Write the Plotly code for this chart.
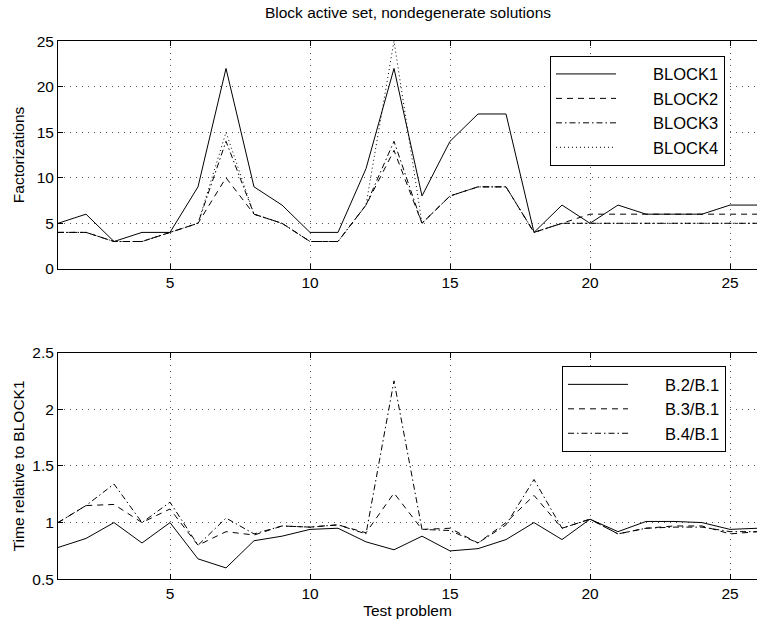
import plotly.graph_objects as go

problems = list(range(1, 27))

block1 = [5, 6, 3, 4, 4, 9, 22, 9, 7, 4, 4, 11, 22, 8, 14, 17, 17, 4, 7, 5, 7, 6, 6, 6, 7, 7]
block2 = [4, 4, 3, 3, 4, 5, 10, 6, 5, 3, 3, 7, 13, 5, 8, 9, 9, 4, 5, 6, 6, 6, 6, 6, 6, 6]
block3 = [4, 4, 3, 3, 4, 5, 14, 6, 5, 3, 3, 7, 14, 5, 8, 9, 9, 4, 5, 5, 5, 5, 5, 5, 5, 5]
block4 = [4, 4, 3, 3, 4, 5, 15, 6, 5, 3, 3, 7, 25, 5, 8, 9, 9, 4, 5, 5, 5, 5, 5, 5, 5, 5]

r21 = [0.78, 0.86, 1.0, 0.82, 1.0, 0.68, 0.60, 0.84, 0.88, 0.94, 0.95, 0.83, 0.76,
       0.88, 0.75, 0.77, 0.85, 1.0, 0.85, 1.03, 0.92, 1.01, 1.01, 1.0, 0.94, 0.95]
r31 = [1.0, 1.15, 1.16, 1.0, 1.12, 0.80, 0.92, 0.89, 0.97, 0.96, 0.98, 0.91, 1.26,
       0.94, 0.95, 0.82, 1.0, 1.24, 0.95, 1.03, 0.90, 0.95, 0.97, 0.97, 0.90, 0.92]
r41 = [1.0, 1.15, 1.34, 1.0, 1.18, 0.80, 1.04, 0.90, 0.97, 0.96, 0.98, 0.90, 2.25,
       0.94, 0.93, 0.82, 0.98, 1.38, 0.95, 1.03, 0.90, 0.95, 0.96, 0.96, 0.92, 0.92]

top_names = ["BLOCK1", "BLOCK2", "BLOCK3", "BLOCK4"]
bot_names = ["B.2/B.1", "B.3/B.1", "B.4/B.1"]

title_text = "Block active set, nondegenerate solutions"
x_title = "Test problem"
y1_title = "Factorizations"
y2_title = "Time relative to BLOCK1"

W, H = 757, 633
FONT = "Liberation Sans, Arial, Helvetica, sans-serif"
PAD = "\u00a0" * 7

dashes = ["solid", "6px,5px", "6px,3px,1.5px,3px", "1px,3px"]

fig = go.Figure()
for name, ys, d in zip(top_names, [block1, block2, block3, block4], dashes):
    fig.add_trace(go.Scatter(x=problems, y=ys, name=PAD + name, mode="lines",
                             line=dict(color="black", width=1, dash=d),
                             xaxis="x", yaxis="y", legend="legend"))
for name, ys, d in zip(bot_names, [r21, r31, r41], dashes[:3]):
    fig.add_trace(go.Scatter(x=problems, y=ys, name=PAD + name, mode="lines",
                             line=dict(color="black", width=1, dash=d),
                             xaxis="x2", yaxis="y2", legend="legend2"))

left = 58 / W
xr = [1, 1 + (W - 58) / 28.0]
top_dom = [1 - 267 / H, 1 - 33 / H]
bot_dom = [1 - 586 / H, 1 - 353 / H]

FS = 15.5
axis_common = dict(
    showline=True, linecolor="black", linewidth=1,
    ticks="inside", ticklen=5, tickcolor="black",
    showgrid=True, gridcolor="#555", griddash="1px,5px", gridwidth=1,
    zeroline=False, tickfont=dict(size=FS, color="black", family=FONT),
)
tfont = dict(size=FS, family=FONT, color="black")

fig.update_layout(
    width=W, height=H,
    margin=dict(l=0, r=0, t=0, b=0),
    paper_bgcolor="white", plot_bgcolor="white",
    font=dict(family=FONT, color="black"),
    showlegend=True,
    title=dict(text=title_text, x=408 / W, xanchor="center",
               y=1 - 13 / H, yanchor="middle",
               font=dict(size=15.5, family=FONT, color="black")),
    xaxis=dict(domain=[left, 1], range=xr, anchor="y", mirror="ticks",
               tickvals=[5, 10, 15, 20, 25], **axis_common),
    yaxis=dict(domain=top_dom, range=[0, 25], anchor="x",
               tickvals=[0, 5, 10, 15, 20, 25],
               title=dict(text=y1_title, font=tfont, standoff=8),
               **axis_common),
    xaxis2=dict(domain=[left, 1], range=xr, anchor="y2", mirror="ticks",
                tickvals=[5, 10, 15, 20, 25],
                title=dict(text=x_title, font=tfont, standoff=2),
                **axis_common),
    yaxis2=dict(domain=bot_dom, range=[0.5, 2.5], anchor="x2",
                tickvals=[0.5, 1, 1.5, 2, 2.5], ticktext=["0.5", "1", "1.5", "2", "2.5"],
                title=dict(text=y2_title, font=tfont, standoff=3),
                **axis_common),
    legend=dict(x=550 / W, y=1 - 48 / H, xanchor="left", yanchor="top",
                bordercolor="black", borderwidth=1, bgcolor="white",
                font=dict(size=16.5, family=FONT, color="black"),
                itemwidth=60, tracegroupgap=0),
    legend2=dict(x=562 / W, y=1 - 367 / H, xanchor="left", yanchor="top",
                 bordercolor="black", borderwidth=1, bgcolor="white",
                 font=dict(size=16.5, family=FONT, color="black"),
                 itemwidth=60, tracegroupgap=0),
)

fig.write_html("out.html")
